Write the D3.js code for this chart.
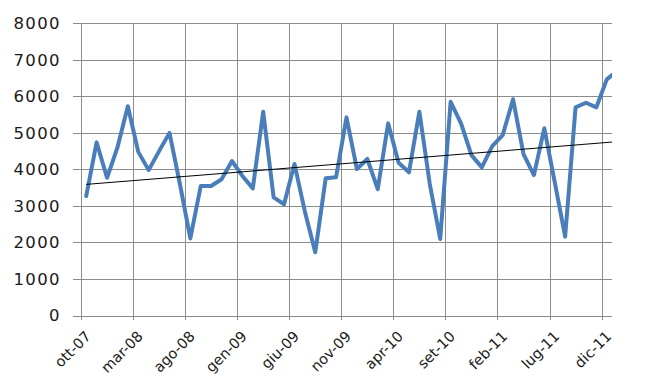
<!DOCTYPE html>
<html>
<head>
<meta charset="utf-8" />
<script src="https://cdn.jsdelivr.net/npm/d3@7/dist/d3.min.js"></script>
<style>
  body { margin: 0; background: #fff; }
  svg { font-family: 'DejaVu Sans', sans-serif; }
  .grid line { stroke: #8c8c8c; stroke-width: 1px; shape-rendering: crispEdges; }
  .series { fill: none; stroke: #4a7ebb; stroke-width: 4px; stroke-linejoin: round; stroke-linecap: round; }
  .trend { fill: none; stroke: #000; stroke-width: 1px; }
  text { fill: #1a1a1a; }
</style>
</head>
<body>
<svg width="667" height="388"></svg>
<script>
// monthly values, ott-07 .. gen-12
var values = [
  3270, 4740, 3770, 4600, 5730, 4480, 3980, 4500, 5000, 3600,
  2110, 3545, 3545, 3730, 4230, 3820, 3480, 5580, 3235, 3045,
  4150, 2850, 1730, 3755, 3785, 5425, 4010, 4285, 3460, 5260,
  4180, 3920, 5580, 3600, 2095, 5850, 5260, 4390, 4055, 4640,
  4940, 5920, 4420, 3845, 5125, 3650, 2160, 5700, 5825, 5700,
  6465, 6700
];
// labelled month every 5 months
var tickLabels = ['ott-07', 'mar-08', 'ago-08', 'gen-09', 'giu-09', 'nov-09',
  'apr-10', 'set-10', 'feb-11', 'lug-11', 'dic-11'];
var yTicks = [0, 1000, 2000, 3000, 4000, 5000, 6000, 7000, 8000];
// linear trend read at first and last point
var trend = [3590, 4760];

var plotLeft = 81, plotRight = 612, plotTop = 23.3, plotBottom = 315.5;

var x = d3.scaleLinear().domain([0, 51]).range([plotLeft, plotRight]);
var y = d3.scaleLinear().domain([0, 8000]).range([plotBottom, plotTop]);

var svg = d3.select('svg');

svg.append('defs').append('clipPath').attr('id', 'plot')
  .append('rect')
  .attr('x', 0).attr('y', 0)
  .attr('width', plotRight).attr('height', 388);

// horizontal grid + y ticks
var hg = svg.append('g').attr('class', 'grid');
hg.selectAll('line')
  .data(yTicks)
  .enter().append('line')
  .attr('x1', plotLeft - 8).attr('x2', plotRight)
  .attr('y1', function (d) { return Math.round(y(d)) + 0.5; })
  .attr('y2', function (d) { return Math.round(y(d)) + 0.5; });

// vertical grid + x ticks
var vg = svg.append('g').attr('class', 'grid');
vg.selectAll('line')
  .data(tickLabels)
  .enter().append('line')
  .attr('x1', function (d, i) { return Math.round(x(i * 5)) + 0.5; })
  .attr('x2', function (d, i) { return Math.round(x(i * 5)) + 0.5; })
  .attr('y1', plotTop).attr('y2', plotBottom + 4);

svg.append('g').selectAll('text')
  .data(yTicks)
  .enter().append('text')
  .attr('x', 61)
  .attr('y', function (d) { return y(d); })
  .attr('dy', '0.36em')
  .attr('text-anchor', 'end')
  .style('font-size', '16.5px')
  .style('letter-spacing', '1.4px')
  .text(function (d) { return d; });

svg.append('g').selectAll('text')
  .data(tickLabels)
  .enter().append('text')
  .attr('transform', function (d, i) {
    return 'translate(' + (x(i * 5) + 7) + ',' + (plotBottom + 18) + ') rotate(-45)';
  })
  .attr('dy', '0.36em')
  .attr('text-anchor', 'end')
  .style('font-size', '14.5px')
  .text(function (d) { return d; });

var line = d3.line()
  .x(function (d, i) { return x(i + 0.5); })
  .y(function (d) { return y(d); });

svg.append('path')
  .datum(values)
  .attr('class', 'series')
  .attr('clip-path', 'url(#plot)')
  .attr('d', line);

svg.append('path')
  .datum(trend)
  .attr('class', 'trend')
  .attr('clip-path', 'url(#plot)')
  .attr('d', d3.line()
    .x(function (d, i) { return x(i === 0 ? 0.5 : values.length - 0.5); })
    .y(function (d) { return y(d); }));
</script>
</body>
</html>
